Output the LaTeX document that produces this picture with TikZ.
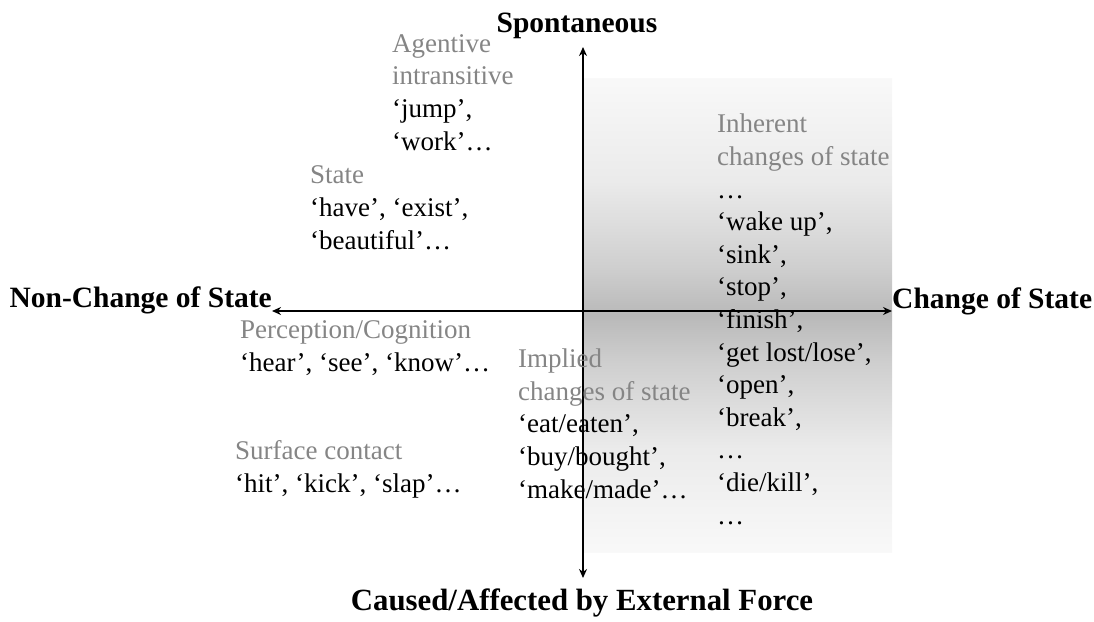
\documentclass[tikz,border=0pt]{standalone}
\usepackage{fontspec}
\setmainfont{Liberation Serif}
\usetikzlibrary{arrows.meta}
\definecolor{lblgray}{gray}{0.52}
\pgfdeclareverticalshading{bandshade}{100bp}{color(0bp)=(gray!5); color(25bp)=(gray!5); color(36bp)=(gray!16); color(45bp)=(gray!38); color(50bp)=(gray!55); color(55bp)=(gray!38); color(64bp)=(gray!16); color(75bp)=(gray!5); color(100bp)=(gray!5)}
\begin{document}
\begin{tikzpicture}[x=1pt,y=1pt,
  body/.style={anchor=base west, inner sep=0pt, align=left, font=\fontsize{27}{32.6}\selectfont},
  axislabel/.style={inner sep=0pt, font=\fontsize{29.5}{32}\selectfont\bfseries},
  axisline/.style={line width=1.6pt, {Stealth[length=9pt,width=8pt]}-{Stealth[length=9pt,width=8pt]}}]
\useasboundingbox (0,0) rectangle (1094,-621);
% shaded region (darkest at the horizontal axis)
\shade[shading=bandshade] (583,-78) rectangle (892,-552);
% axis end points
\coordinate (vtop) at (583,-47);
\coordinate (vbot) at (583,-578);
\coordinate (hleft) at (272,-311);
\coordinate (hright) at (892,-311);
\draw[axisline] (vbot) -- (vtop);
\draw[axisline] (hleft) -- (hright);
% axis labels
\node[axislabel, anchor=base] (spont) at (577,-32) {Spontaneous};
\node[axislabel, anchor=base, font=\fontsize{30.8}{32}\selectfont\bfseries] (caused) at (582,-610) {Caused/Affected by External Force};
\node[axislabel, anchor=base east] (noncs) at (272,-307) {Non-Change of State};
\node[axislabel, anchor=base west] (cs) at (892,-308) {Change of State};
% blocks (anchored at the baseline of their last line)
\node[body] (agent) at (392,-150) {\textcolor{lblgray}{Agentive}\\\textcolor{lblgray}{intransitive}\\‘jump’,\\‘work’…};
\node[body] (state) at (310,-249) {\textcolor{lblgray}{State}\\‘have’, ‘exist’,\\‘beautiful’…};
\node[body] (percep) at (240,-371) {\textcolor{lblgray}{Perception/Cognition}\\‘hear’, ‘see’, ‘know’…};
\node[body] (surf) at (235,-492) {\textcolor{lblgray}{Surface contact}\\‘hit’, ‘kick’, ‘slap’…};
\node[body] (implied) at (518,-498) {\textcolor{lblgray}{Implied}\\\textcolor{lblgray}{changes of state}\\‘eat/eaten’,\\‘buy/bought’,\\‘make/made’…};
\node[body] (inherent) at (717,-524) {\textcolor{lblgray}{Inherent}\\\textcolor{lblgray}{changes of state}\\…\\‘wake up’,\\‘sink’,\\‘stop’,\\‘finish’,\\‘get lost/lose’,\\‘open’,\\‘break’,\\…\\‘die/kill’,\\…};
\end{tikzpicture}
\end{document}
